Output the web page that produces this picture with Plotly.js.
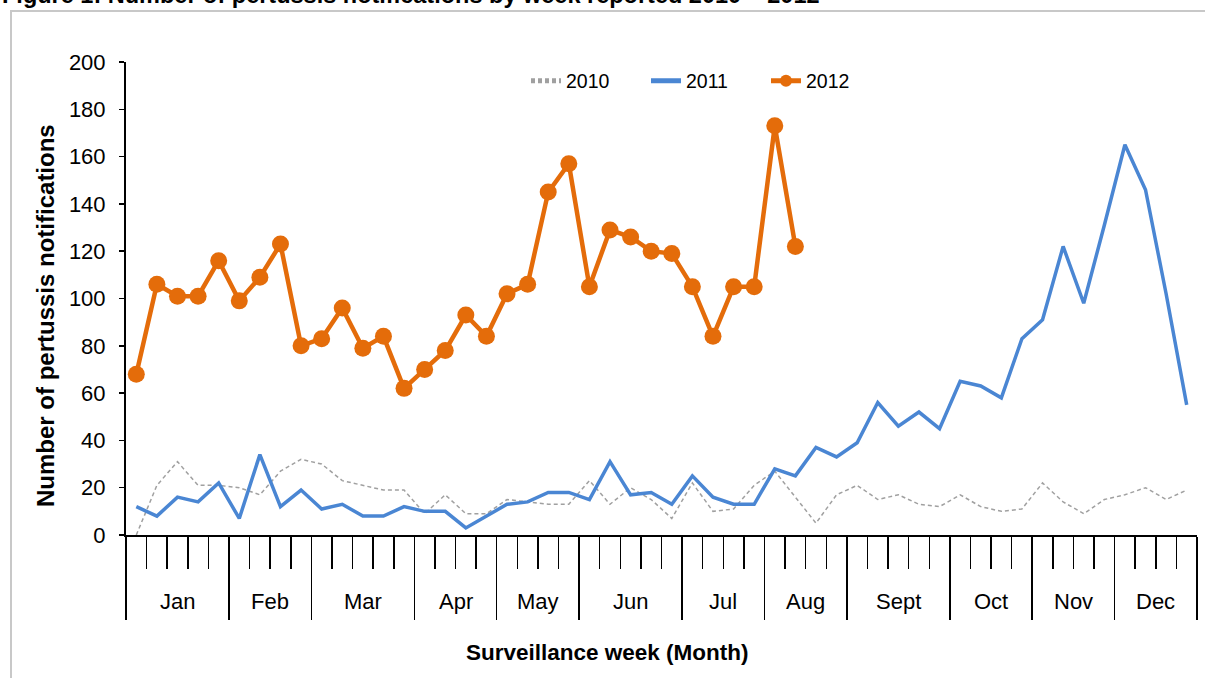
<!DOCTYPE html>
<html>
<head>
<meta charset="utf-8">
<script src="https://cdn.plot.ly/plotly-3.0.1.min.js"></script>
<style>
  html, body { margin: 0; padding: 0; background: #ffffff; }
  #chart { width: 1205px; height: 678px; }
</style>
</head>
<body>
<div id="chart"></div>
<script>
// ---- Data ----
const weeks = [1,2,3,4,5,6,7,8,9,10,11,12,13,14,15,16,17,18,19,20,21,22,23,24,25,26,
               27,28,29,30,31,32,33,34,35,36,37,38,39,40,41,42,43,44,45,46,47,48,49,50,51,52];

const monthNames = ['Jan','Feb','Mar','Apr','May','Jun','Jul','Aug','Sept','Oct','Nov','Dec'];
const weeksPerMonth = [5,4,5,4,4,5,4,4,5,4,4,4];

const series2010 = [0,21,31,21,21,20,17,27,32,30,23,21,19,19,9,17,9,9,15,14,13,13,23,13,20,15,
                    7,22,10,11,21,27,16,5,17,21,15,17,13,12,17,12,10,11,22,14,9,15,17,20,15,19];

const series2011 = [12,8,16,14,22,7,34,12,19,11,13,8,8,12,10,10,3,8,13,14,18,18,15,31,17,18,
                    13,25,16,13,13,28,25,37,33,39,56,46,52,45,65,63,58,83,91,122,98,131,165,146,102,55];

const series2012 = [68,106,101,101,116,99,109,123,80,83,96,79,84,62,70,78,93,84,102,106,145,157,
                    105,129,126,120,119,105,84,105,105,173,122];

const seriesNames = ['2010','2011','2012'];

const titleText = 'Figure 1: Number of pertussis notifications by week reported 2010 \u2013 2012';
const yTitleText = 'Number of pertussis notifications';
const xTitleText = 'Surveillance week (Month)';

// ---- Geometry (pixels) ----
const W = 1205, H = 678;
const M = {l: 126, r: 8, t: 62, b: 143};
const plotW = W - M.l - M.r;
const plotH = H - M.t - M.b;
const px2x = p => (p - M.l) / plotW;
const py2y = p => (H - M.b - p) / plotH;

const FONT = '"Liberation Sans", Arial, sans-serif';

// month boundaries and centers (in week units)
const boundaries = [0.5];
const centers = [];
weeksPerMonth.forEach(n => {
  const start = boundaries[boundaries.length - 1];
  centers.push(start + n / 2);
  boundaries.push(start + n);
});

const traces = [
  {
    x: weeks.slice(0, series2010.length), y: series2010, name: seriesNames[0],
    type: 'scatter', mode: 'lines',
    line: {color: '#a0a0a0', width: 1.5, dash: '4px,3px'}
  },
  {
    x: weeks.slice(0, series2011.length), y: series2011, name: seriesNames[1],
    type: 'scatter', mode: 'lines',
    line: {color: '#4a86d3', width: 3.5}
  },
  {
    x: weeks.slice(0, series2012.length), y: series2012, name: seriesNames[2],
    type: 'scatter', mode: 'lines+markers',
    line: {color: '#e46c0a', width: 4.5},
    marker: {color: '#e46c0a', size: 17}
  }
];

const annotations = [];
monthNames.forEach((m, i) => {
  annotations.push({
    x: centers[i], xref: 'x', y: py2y(601), yref: 'paper',
    text: m, showarrow: false, xanchor: 'center', yanchor: 'middle',
    font: {family: FONT, size: 22, color: '#000000'}
  });
});
annotations.push({
  x: px2x(607), xref: 'paper', y: py2y(652), yref: 'paper',
  text: '<b>' + xTitleText + '</b>', showarrow: false, xanchor: 'center', yanchor: 'middle',
  font: {family: FONT, size: 22.5, color: '#000000'}
});
annotations.push({
  x: px2x(45), xref: 'paper', y: py2y(316), yref: 'paper',
  text: '<b>' + yTitleText + '</b>', showarrow: false, xanchor: 'center', yanchor: 'middle',
  textangle: -90,
  font: {family: FONT, size: 24, color: '#000000'}
});
annotations.push({
  x: px2x(0), xref: 'paper', y: py2y(10), yref: 'paper',
  text: '<b>' + titleText + '</b>', showarrow: false, xanchor: 'left', yanchor: 'bottom',
  font: {family: FONT, size: 23.5, color: '#000000'}
});

const layout = {
  width: W, height: H,
  margin: M,
  paper_bgcolor: '#ffffff', plot_bgcolor: '#ffffff',
  font: {family: FONT, size: 20, color: '#000000'},
  showlegend: true,
  legend: {
    orientation: 'h', x: px2x(526), xanchor: 'left', y: py2y(81), yanchor: 'middle',
    font: {family: FONT, size: 19.5, color: '#000000'},
    bgcolor: 'rgba(0,0,0,0)', entrywidth: 75, itemsizing: 'constant'
  },
  xaxis: {
    range: [0.5, 52.5], fixedrange: true,
    showgrid: false, zeroline: false,
    showline: true, linecolor: '#000000', linewidth: 2,
    tickmode: 'array', tickvals: boundaries, showticklabels: false,
    ticks: 'outside', ticklen: 83, tickwidth: 1.5, tickcolor: '#000000',
    minor: {tick0: 0.5, dtick: 1, ticks: 'outside', ticklen: 32, tickwidth: 1.5, tickcolor: '#000000', showgrid: false}
  },
  yaxis: {
    range: [0, 200], fixedrange: true,
    tickmode: 'linear', tick0: 0, dtick: 20,
    showgrid: false, zeroline: false,
    showline: true, linecolor: '#000000', linewidth: 2,
    ticks: 'outside', ticklen: 5, tickwidth: 1.5, tickcolor: '#000000',
    ticklabelstandoff: 9,
    tickfont: {family: FONT, size: 22, color: '#000000'}
  },
  annotations: annotations,
  shapes: [{
    type: 'rect', xref: 'paper', yref: 'paper',
    x0: px2x(11), x1: px2x(1215), y0: py2y(11), y1: py2y(700),
    line: {color: '#c8c8c8', width: 2}, fillcolor: 'rgba(0,0,0,0)', layer: 'below'
  }]
};

Plotly.newPlot('chart', traces, layout, {displayModeBar: false, staticPlot: true});
</script>
</body>
</html>
